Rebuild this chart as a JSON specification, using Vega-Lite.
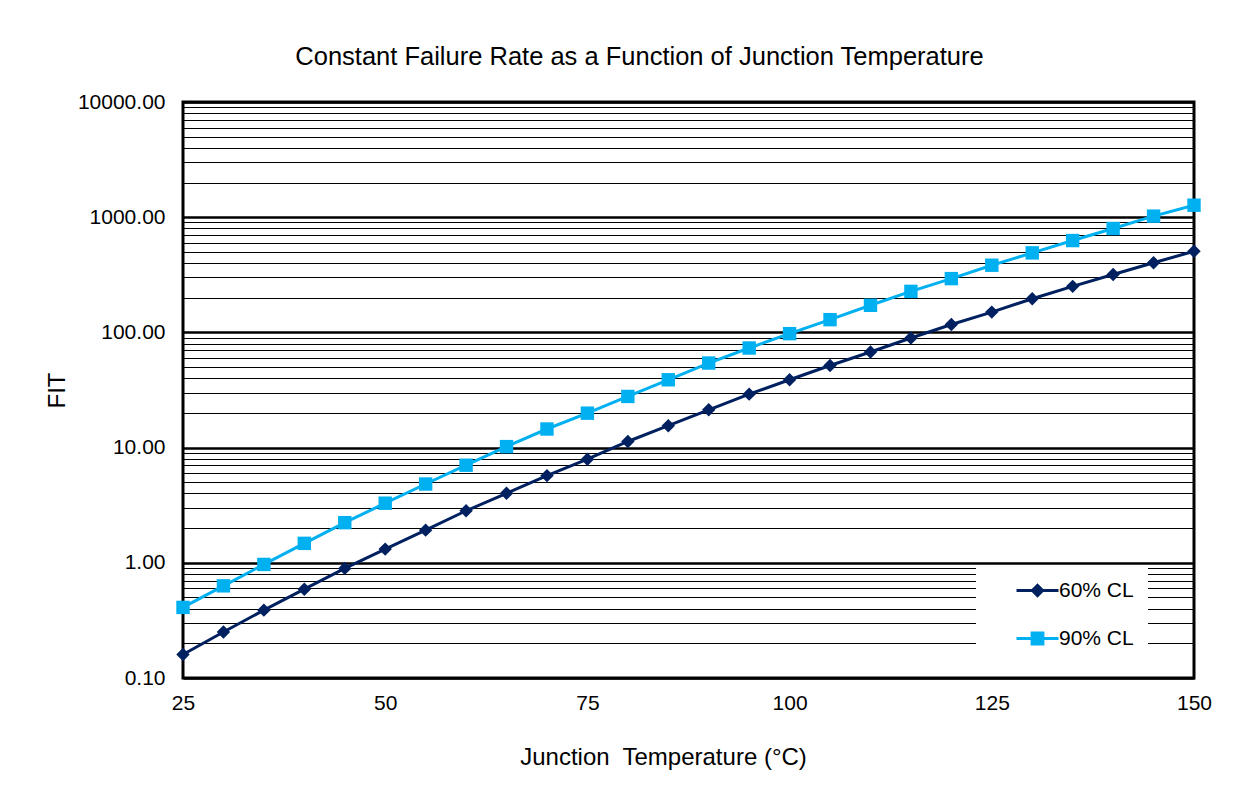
{
  "$schema": "https://vega.github.io/schema/vega-lite/v6.json",
  "width": 1011,
  "height": 576,
  "autosize": {"type": "none"},
  "padding": {"left": 183, "top": 102, "right": 44, "bottom": 113},
  "background": "white",
  "title": {
    "text": "Constant Failure Rate as a Function of Junction Temperature",
    "font": "Liberation Sans",
    "fontSize": 25.5,
    "fontWeight": "normal",
    "color": "black",
    "anchor": "middle",
    "baseline": "alphabetic",
    "dx": -49,
    "offset": 1
  },
  "data": {
    "values": [
      {"temp": 25, "cl": "60% CL", "fit": 0.16},
      {"temp": 30, "cl": "60% CL", "fit": 0.251},
      {"temp": 35, "cl": "60% CL", "fit": 0.388},
      {"temp": 40, "cl": "60% CL", "fit": 0.59},
      {"temp": 45, "cl": "60% CL", "fit": 0.894},
      {"temp": 50, "cl": "60% CL", "fit": 1.315},
      {"temp": 55, "cl": "60% CL", "fit": 1.92},
      {"temp": 60, "cl": "60% CL", "fit": 2.83},
      {"temp": 65, "cl": "60% CL", "fit": 4.01},
      {"temp": 70, "cl": "60% CL", "fit": 5.71},
      {"temp": 75, "cl": "60% CL", "fit": 7.93},
      {"temp": 80, "cl": "60% CL", "fit": 11.3},
      {"temp": 85, "cl": "60% CL", "fit": 15.5},
      {"temp": 90, "cl": "60% CL", "fit": 21.3},
      {"temp": 95, "cl": "60% CL", "fit": 29.1},
      {"temp": 100, "cl": "60% CL", "fit": 38.8},
      {"temp": 105, "cl": "60% CL", "fit": 51.6},
      {"temp": 110, "cl": "60% CL", "fit": 67.6},
      {"temp": 115, "cl": "60% CL", "fit": 89.4},
      {"temp": 120, "cl": "60% CL", "fit": 117},
      {"temp": 125, "cl": "60% CL", "fit": 150},
      {"temp": 130, "cl": "60% CL", "fit": 196},
      {"temp": 135, "cl": "60% CL", "fit": 251},
      {"temp": 140, "cl": "60% CL", "fit": 318},
      {"temp": 145, "cl": "60% CL", "fit": 402},
      {"temp": 150, "cl": "60% CL", "fit": 506},
      {"temp": 25, "cl": "90% CL", "fit": 0.41},
      {"temp": 30, "cl": "90% CL", "fit": 0.631},
      {"temp": 35, "cl": "90% CL", "fit": 0.968},
      {"temp": 40, "cl": "90% CL", "fit": 1.475},
      {"temp": 45, "cl": "90% CL", "fit": 2.23},
      {"temp": 50, "cl": "90% CL", "fit": 3.29},
      {"temp": 55, "cl": "90% CL", "fit": 4.83},
      {"temp": 60, "cl": "90% CL", "fit": 7.03},
      {"temp": 65, "cl": "90% CL", "fit": 10.2},
      {"temp": 70, "cl": "90% CL", "fit": 14.5},
      {"temp": 75, "cl": "90% CL", "fit": 19.9},
      {"temp": 80, "cl": "90% CL", "fit": 27.8},
      {"temp": 85, "cl": "90% CL", "fit": 38.8},
      {"temp": 90, "cl": "90% CL", "fit": 54.2},
      {"temp": 95, "cl": "90% CL", "fit": 73.2},
      {"temp": 100, "cl": "90% CL", "fit": 97.5},
      {"temp": 105, "cl": "90% CL", "fit": 129},
      {"temp": 110, "cl": "90% CL", "fit": 172},
      {"temp": 115, "cl": "90% CL", "fit": 227},
      {"temp": 120, "cl": "90% CL", "fit": 293},
      {"temp": 125, "cl": "90% CL", "fit": 383},
      {"temp": 130, "cl": "90% CL", "fit": 490},
      {"temp": 135, "cl": "90% CL", "fit": 627},
      {"temp": 140, "cl": "90% CL", "fit": 798},
      {"temp": 145, "cl": "90% CL", "fit": 1021},
      {"temp": 150, "cl": "90% CL", "fit": 1271}
    ]
  },
  "encoding": {
    "x": {
      "field": "temp",
      "type": "quantitative",
      "scale": {"domain": [25, 150], "nice": false, "zero": false},
      "axis": {
        "title": "Junction\u00a0 Temperature (°C)",
        "values": [25, 50, 75, 100, 125, 150],
        "grid": false,
        "domain": false,
        "ticks": false,
        "labelFlush": false,
        "labelPadding": 14,
        "labelFont": "Liberation Sans",
        "labelFontSize": 21,
        "labelColor": "black",
        "titleFont": "Liberation Sans",
        "titleFontSize": 24,
        "titleFontWeight": "normal",
        "titleColor": "black",
        "titleX": 480,
        "titleY": 86,
        "titleBaseline": "alphabetic"
      }
    },
    "y": {
      "field": "fit",
      "type": "quantitative",
      "scale": {"type": "log", "domain": [0.1, 10000], "nice": false},
      "axis": {
        "title": "FIT",
        "values": [0.1, 0.2, 0.3, 0.4, 0.5, 0.6, 0.7, 0.8, 0.9, 1, 2, 3, 4, 5, 6, 7, 8, 9, 10, 20, 30, 40, 50, 60, 70, 80, 90, 100, 200, 300, 400, 500, 600, 700, 800, 900, 1000, 2000, 3000, 4000, 5000, 6000, 7000, 8000, 9000, 10000],
        "format": ".2f",
        "labelExpr": "abs(log(datum.value)/LN10 - round(log(datum.value)/LN10)) < 0.000001 ? datum.label : ''",
        "labelOverlap": false,
        "labelFlush": false,
        "labelPadding": 18,
        "labelFont": "Liberation Sans",
        "labelFontSize": 21,
        "labelColor": "black",
        "domain": false,
        "ticks": false,
        "grid": true,
        "gridColor": "black",
        "gridOpacity": 1,
        "gridWidth": {"condition": {"test": "abs(log(datum.value)/LN10 - round(log(datum.value)/LN10)) < 0.000001", "value": 2.5}, "value": 1},
        "titleFont": "Liberation Sans",
        "titleFontSize": 24,
        "titleFontWeight": "normal",
        "titleColor": "black",
        "titleX": -119,
        "titleY": 288,
        "titleAngle": -90,
        "titleBaseline": "alphabetic"
      }
    },
    "color": {
      "field": "cl",
      "type": "nominal",
      "scale": {"domain": ["60% CL", "90% CL"], "range": ["#002060", "#00B0F0"]},
      "legend": {
        "title": null,
        "orient": "none",
        "legendX": 793,
        "legendY": 463,
        "fillColor": "white",
        "padding": 14,
        "symbolSize": 400,
        "symbolOffset": 36,
        "symbolStrokeWidth": 2.5,
        "labelOffset": 10,
        "rowPadding": 25,
        "labelFont": "Liberation Sans",
        "labelFontSize": 21,
        "labelColor": "black",
        "encode": {
          "symbols": {
            "update": {
              "shape": {"signal": "datum.value === '60% CL' ? 'M-2.1,0H2.1M0,-0.52L0.52,0L0,0.52L-0.52,0Z' : 'M-2.1,0H2.1M-0.55,-0.55H0.55V0.55H-0.55Z'"},
              "fill": {"signal": "datum.value === '60% CL' ? '#002060' : '#00B0F0'"},
              "stroke": {"signal": "datum.value === '60% CL' ? '#002060' : '#00B0F0'"},
              "strokeWidth": {"value": 2.8},
              "opacity": {"value": 1},
              "fillOpacity": {"value": 1}
            }
          }
        }
      }
    }
  },
  "layer": [
    {
      "mark": {"type": "line", "strokeWidth": 3}
    },
    {
      "transform": [{"filter": "datum.cl === '60% CL'"}],
      "mark": {"type": "point", "filled": true, "opacity": 1, "shape": "diamond", "size": 180}
    },
    {
      "transform": [{"filter": "datum.cl === '90% CL'"}],
      "mark": {"type": "point", "filled": true, "opacity": 1, "shape": "square", "size": 180}
    }
  ],
  "config": {
    "view": {"stroke": "black", "strokeWidth": 3},
    "font": "Liberation Sans"
  }
}
